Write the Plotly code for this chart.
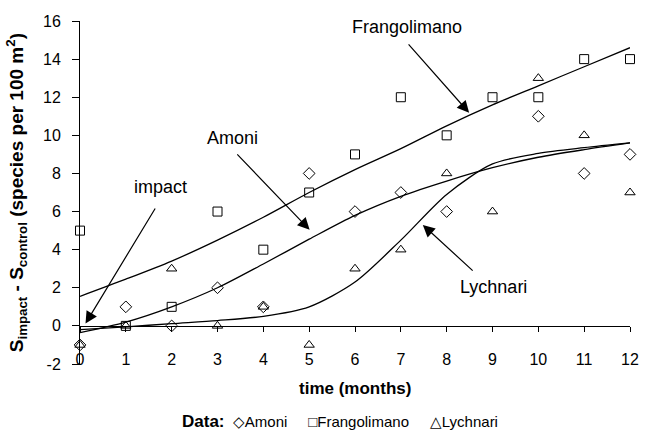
import plotly.graph_objects as go

months = list(range(13))

# observed data
series_names = ["Amoni", "Frangolimano", "Lychnari"]
amoni = [-1, 1, 0, 2, 1, 8, 6, 7, 6, None, 11, 8, 9]
frangolimano = [5, 0, 1, 6, 4, 7, 9, 12, 10, 12, 12, 14, 14]
lychnari = [-1, 0, 3, 0, 1, -1, 3, 4, 8, 6, 13, 10, 7]

# fitted curves
amoni_fit = [-0.35, 0.2, 1.0, 2.0, 3.25, 4.55, 5.8, 6.8, 7.6, 8.3, 8.85, 9.25, 9.6]
frangolimano_fit = [1.55, 2.45, 3.4, 4.5, 5.7, 7.0, 8.2, 9.3, 10.5, 11.6, 12.6, 13.6, 14.6]
lychnari_fit = [-0.2, -0.05, 0.12, 0.28, 0.5, 1.0, 2.3, 4.5, 6.9, 8.5, 9.05, 9.35, 9.6]

# y tick labels
y_tick_values = [-2, 0, 2, 4, 6, 8, 10, 12, 14, 16]
y_tick_labels = ["-2", "0", "2", "4", "6", "8", "10", "12", "14", "16"]

FONT = "'Liberation Sans', Arial, Helvetica, sans-serif"

fig = go.Figure()

symbols = ["diamond-open", "square-open", "triangle-up-open"]
glyphs = ["\u25C7", "\u25A1", "\u25B3"]
for name, ys, sym in zip(series_names, [amoni, frangolimano, lychnari], symbols):
    fig.add_trace(go.Scatter(
        x=months, y=ys, mode="markers", name=name, cliponaxis=False, showlegend=False,
        marker=dict(symbol=sym, size=9, color="black", line=dict(color="black", width=1)),
    ))

for ys in [amoni_fit, frangolimano_fit, lychnari_fit]:
    fig.add_trace(go.Scatter(
        x=months, y=ys, mode="lines", showlegend=False, hoverinfo="skip",
        line=dict(color="black", width=1.3, shape="spline", smoothing=0.8),
    ))

# labels with arrows: (text, text_x, text_y, tail_x, tail_y, tip_x, tip_y)
labels = [
    ("Frangolimano", 7.14, 15.69, 7.14, 14.85, 8.49, 11.18),
    ("Amoni", 3.33, 9.86, 3.40, 9.08, 5.01, 5.04),
    ("impact", 1.76, 7.29, 1.66, 6.24, 0.12, 0.12),
    ("Lychnari", 9.03, 2.05, 8.60, 2.83, 7.48, 5.30),
]
for text, tx, ty, ax, ay, px, py in labels:
    fig.add_annotation(x=tx, y=ty, text=text, showarrow=False,
                       font=dict(family=FONT, size=18, color="black"))
    fig.add_annotation(x=px, y=py, ax=ax, ay=ay, axref="x", ayref="y", text="",
                       showarrow=True, arrowhead=2, arrowsize=2, arrowwidth=1.2,
                       arrowcolor="black")

# axis titles
fig.add_annotation(xref="paper", yref="paper", x=0.5, y=-0.07, yanchor="middle",
                   text="<b>time (months)</b>", showarrow=False,
                   font=dict(family=FONT, size=17, color="black"))
fig.add_annotation(xref="paper", yref="paper", x=-0.115, xanchor="center", y=0.5,
                   yanchor="middle", textangle=-90,
                   text="<b>S<sub>impact</sub> - S<sub>control</sub> (species per 100 m<sup>2</sup>)</b>",
                   showarrow=False, font=dict(family=FONT, size=19, color="black"))

# legend line built from series names
sep = "&nbsp;" * 5
legend_text = "<b><span style='font-size:17px'>Data:</span></b>&nbsp;&nbsp;" + sep.join(
    f"{g}{n}" for g, n in zip(glyphs, series_names))
fig.add_annotation(xref="paper", yref="paper", x=0.472, xanchor="center", y=-0.167,
                   yanchor="middle", text=legend_text, showarrow=False,
                   font=dict(family=FONT, size=15, color="black"))

fig.update_layout(
    width=651, height=433,
    margin=dict(l=80, r=13, t=21, b=69),
    paper_bgcolor="white", plot_bgcolor="white",
    font=dict(family=FONT, size=16, color="black"),
    xaxis=dict(range=[0, 12], dtick=1, tick0=0, anchor="free", position=2 / 18,
               showline=True, linecolor="black", linewidth=1, ticks="outside",
               ticklen=5, tickcolor="black", showgrid=False, zeroline=False,
               ticklabelstandoff=14, ticklabeloverflow="allow", tickfont=dict(size=16)),
    yaxis=dict(range=[-2, 16], tickmode="array", tickvals=y_tick_values,
               ticktext=y_tick_labels, showline=True, linecolor="black",
               linewidth=1, ticks="outside", ticklen=7, tickcolor="black",
               showgrid=False, zeroline=False, ticklabelstandoff=8, tickfont=dict(size=16)),
    showlegend=False,
)

fig.write_html("out.html", config={"displayModeBar": False},
               post_script="document.body.style.margin='0';")
